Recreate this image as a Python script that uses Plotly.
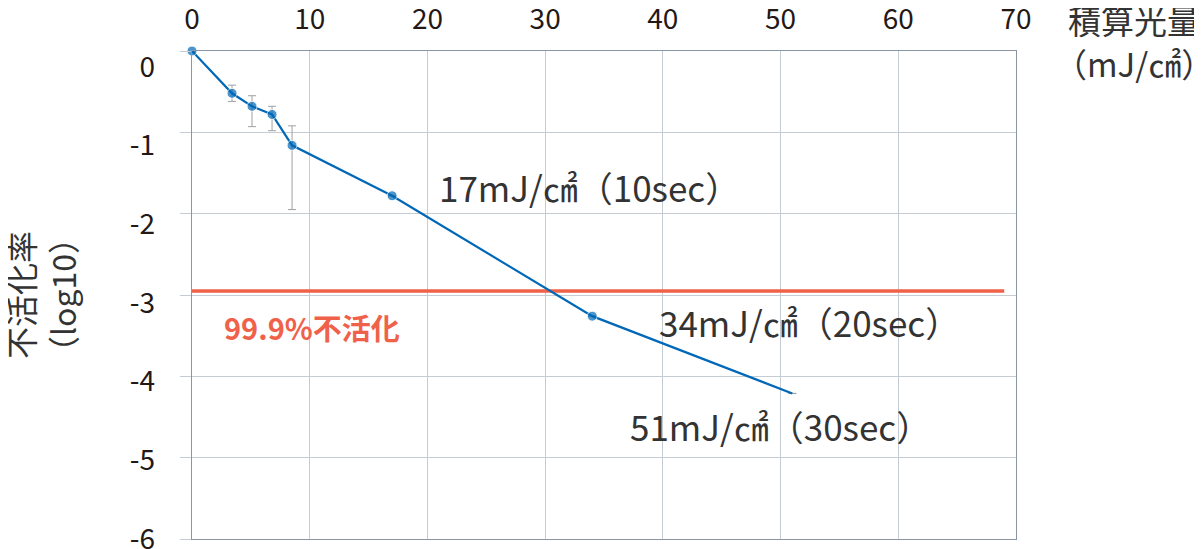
import plotly.graph_objects as go

# Data
dose = [0, 3.4, 5.1, 6.8, 8.5, 17, 34, 51]          # 積算光量 (mJ/cm2)
log_inact = [0.0, -0.52, -0.68, -0.78, -1.16, -1.78, -3.26, -4.21]
err_plus = [0, 0.10, 0.13, 0.10, 0.24, 0, 0, 0]
err_minus = [0, 0.10, 0.25, 0.20, 0.79, 0, 0, 0]
marker_sizes = [10, 10, 10, 10, 10, 10, 10, 0]

threshold_x = [0, 69]
threshold_y = [-2.95, -2.95]

x_ticks = [0, 10, 20, 30, 40, 50, 60, 70]
y_ticks = [0, -1, -2, -3, -4, -5, -6]
y_ticktext = ["0", "-1", "-2", "-3", "-4", "-5", "-6"]

labels = ["17mJ/㎠（10sec）", "34mJ/㎠（20sec）", "51mJ/㎠（30sec）"]
label_x = [20.8, 39.5, 37.0]
label_y = [-1.66, -3.33, -4.61]

FONT = "Noto Sans CJK JP"
BLUE = "#0068B7"
RED = "#F0614A"
GRID = "#C5CCD4"
AXIS = "#8A96A3"
TXT = "#231815"

fig = go.Figure()

fig.add_trace(go.Scatter(
    x=threshold_x, y=threshold_y, mode="lines",
    line=dict(color=RED, width=3.5), showlegend=False, hoverinfo="skip"))

fig.add_trace(go.Scatter(
    x=dose, y=log_inact, mode="lines+markers", cliponaxis=False,
    line=dict(color=BLUE, width=2.2),
    marker=dict(color=BLUE, size=marker_sizes),
    error_y=dict(type="data", symmetric=False, array=err_plus, arrayminus=err_minus,
                 color="#A0A0A0", thickness=1, width=4),
    showlegend=False))

# helper trace for offset tick labels
fig.add_trace(go.Scatter(x=[None], y=[None], yaxis="y2", showlegend=False, hoverinfo="skip"))

# page body has an 8px margin: plot area placed so it lands at the reference pixels
fig.update_layout(
    width=1194, height=541,
    margin=dict(l=184, r=186, t=43, b=10),
    paper_bgcolor="white", plot_bgcolor="white",
    font=dict(family=FONT, color=TXT),
    xaxis=dict(range=[0, 70], side="top", tickvals=x_ticks, showgrid=True,
               gridcolor=GRID, gridwidth=1, zeroline=False, automargin=False,
               showline=True, linecolor=AXIS, linewidth=1, mirror=True,
               ticks="", tickfont=dict(size=28, color=TXT, family=FONT),
               ticklabelstandoff=10, ticklabeloverflow="allow"),
    yaxis=dict(range=[-6, 0], tickvals=y_ticks, showgrid=True, gridcolor=GRID,
               gridwidth=1, zeroline=False, showline=True, linecolor=AXIS,
               linewidth=1, mirror=True, ticks="outside", ticklen=11, automargin=False,
               tickcolor=GRID, showticklabels=False),
    yaxis2=dict(range=[-6.001, 0.203], overlaying="y", side="left", automargin=False,
                tickvals=y_ticks, ticktext=y_ticktext, showgrid=False, zeroline=False,
                showline=False, ticks="", tickfont=dict(size=28, color=TXT, family=FONT),
                ticklabelstandoff=36, ticklabeloverflow="allow"),
)

for t, xx, yy in zip(labels, label_x, label_y):
    fig.add_annotation(x=xx, y=yy, text=t, showarrow=False, xanchor="left",
                       yanchor="middle", font=dict(size=35, color="#333333", family=FONT))

fig.add_annotation(x=2.55, y=-3.39, text="<b>99.9%不活化</b>", showarrow=False,
                   xanchor="left", yanchor="middle",
                   font=dict(size=29, color=RED, family=FONT))

fig.add_annotation(xref="paper", yref="paper", x=(1134 - 192) / 824, y=1 + (51 - 41) / 488,
                   text="積算光量<br>（mJ/㎠）", showarrow=False, xanchor="center",
                   yanchor="middle", font=dict(size=33, color="#333333", family=FONT))

fig.add_annotation(xref="paper", yref="paper", x=(41 - 192) / 824, y=0.5,
                   text="不活化率<br>（log10）", textangle=-90, showarrow=False,
                   xanchor="center", yanchor="middle",
                   font=dict(size=32, color="#333333", family=FONT))

fig.write_html("out.html")
